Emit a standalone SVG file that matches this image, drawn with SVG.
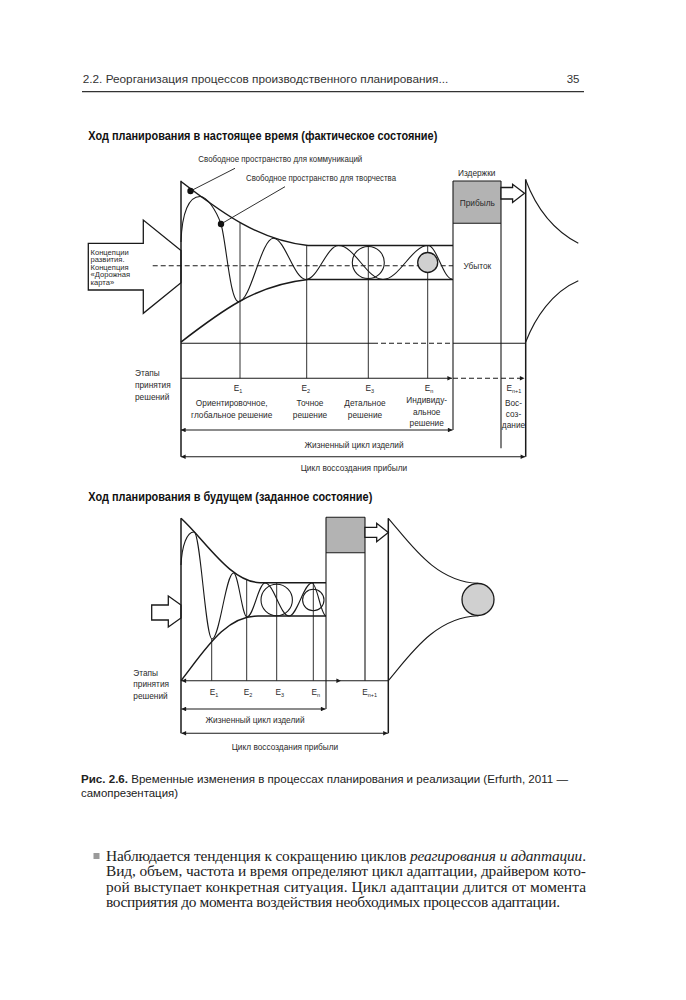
<svg xmlns="http://www.w3.org/2000/svg" width="686" height="1000" viewBox="0 0 686 1000">
<style>
.bg{fill:#ffffff}
.ln{fill:none;stroke:#1a1a1a;stroke-width:1.1}
.th{fill:none;stroke:#1a1a1a;stroke-width:1.5}
.tn{fill:none;stroke:#1a1a1a;stroke-width:0.9}
.ds{fill:none;stroke:#1a1a1a;stroke-width:1.1;stroke-dasharray:5 3}
.gray{fill:#b3b3b3;stroke:none}
.lg{fill:#d0d0d0;stroke:#1a1a1a;stroke-width:1.3}
.ha{fill:#ffffff;stroke:#1a1a1a;stroke-width:1.3}
.lbl{font-family:"Liberation Sans",Arial,sans-serif;font-size:8.3px;fill:#2a2a2a}
.sm{font-family:"Liberation Sans",Arial,sans-serif;font-size:7.6px;fill:#2a2a2a}
.sub{font-size:5.5px}
.c{text-anchor:middle}
.hd{font-family:"Liberation Sans",Arial,sans-serif;font-size:11.5px;fill:#333}
.tt{font-family:"Liberation Sans",Arial,sans-serif;font-size:12px;font-weight:bold;fill:#111}
.cap{font-family:"Liberation Sans",Arial,sans-serif;font-size:11.3px;fill:#222}
.body{font-family:"Liberation Serif","Times New Roman",serif;font-size:15.4px;fill:#222}
</style>
<defs>
<marker id="ah" viewBox="0 0 10 10" refX="10" refY="5" markerWidth="7" markerHeight="4.6" markerUnits="userSpaceOnUse" orient="auto-start-reverse"><path d="M0,0 L10,5 L0,10 z" fill="#1a1a1a"/></marker>
</defs>
<rect class="bg" x="0" y="0" width="686" height="1000"/>

<g id="header">
<text class="hd" x="82.7" y="82.5" textLength="365.6" lengthAdjust="spacingAndGlyphs">2.2. Реорганизация процессов производственного планирования...</text>
<text class="hd" x="566.7" y="82.5">35</text>
<path d="M82,91.7 H584" stroke="#333" stroke-width="1.3"/>
</g>

<g id="title1"><text class="tt" x="88.3" y="139.5" textLength="349" lengthAdjust="spacingAndGlyphs">Ход планирования в настоящее время (фактическое состояние)</text></g>

<g id="input-arrow-1">
<polygon class="ha" points="88.3,243.3 143.3,243.3 143.3,220 181,250.5 181,282.8 143.3,313.3 143.3,290 88.3,290"/>
<text class="sm" x="90.5" y="254.5">Концепции</text>
<text class="sm" x="90.5" y="262">развития.</text>
<text class="sm" x="90.5" y="269.5">Концепция</text>
<text class="sm" x="90.5" y="277">«Дорожная</text>
<text class="sm" x="90.5" y="284.5">карта»</text>
</g>

<g id="chart1">
<path class="ds" d="M152.7,265.7 H453"/>
<path class="tn" d="M240,223 V378.3 M306.7,245.5 V378.3 M368.3,245.5 V378.3 M427.7,245.5 V378.3"/>
<path class="th" d="M181,181.5 C215,207 255,240 308,245.5 H453"/>
<path class="th" d="M181,342 C220,312 255,285 308,279.5 H453"/>
<path class="ln" d="M181,242 C182,212 189,196.5 200,196.5 C207,196.5 216,210 221,224 C226,240 230,301.7 238.5,301.7 C251.1,301.7 260.9,238.3 273.5,238.3 C285,238.3 294,279.5 306,279.5 C317.7,279.5 326.8,245.5 338.5,245.5 C354.5,245.5 367,279.5 383,279.5 C399.2,279.5 411.8,245.5 428,245.5 C436.6,245.5 443.4,279 452,279"/>
<circle class="ln" cx="368.3" cy="262.5" r="16"/>
<circle class="lg" cx="427.7" cy="262.5" r="10"/>
<circle cx="190.5" cy="191" r="3.2" fill="#111"/>
<circle cx="221" cy="224" r="3.2" fill="#111"/>
<path class="th" d="M181,180.7 V456.7"/>
<path class="ln" d="M181,343.3 H373 M453,343.3 H525.7"/>
<path class="ds" d="M373,343.3 H453"/>
</g>

<g id="box1">
<rect class="gray" x="453" y="181" width="48" height="42.3"/>
<path class="ln" d="M453,181 H501 M453,223.3 H501 M453,181 V430 M501,181 V448.3"/>
<text class="lbl c" x="476.7" y="176">Издержки</text>
<text class="lbl c" x="477.3" y="205.5">Прибыль</text>
<text class="lbl c" x="477.3" y="269">Убыток</text>
<polygon class="ha" points="501,187.5 512.6,187.5 512.6,184.3 524.5,193.3 512.6,202.5 512.6,199 501,199"/>
</g>

<g id="funnel1">
<path class="th" d="M525.7,179.3 V456.7"/>
<path class="ln" d="M525.7,180 C535,205 551,229 578.3,243.3"/>
<path class="ln" d="M525.7,342 C535,318 552,292 578.3,280.7"/>
</g>

<g id="labels1">
<text class="lbl" x="198.3" y="162" textLength="164" lengthAdjust="spacingAndGlyphs">Свободное пространство для коммуникаций</text>
<text class="lbl" x="246" y="181" textLength="150" lengthAdjust="spacingAndGlyphs">Свободное пространство для творчества</text>
<text class="lbl" x="135" y="376">Этапы</text>
<text class="lbl" x="135" y="388">принятия</text>
<text class="lbl" x="135" y="399.5">решений</text>
<text class="lbl" x="233.8" y="390.5">E<tspan class="sub" dy="2">1</tspan></text>
<text class="lbl" x="301.5" y="390.5">E<tspan class="sub" dy="2">2</tspan></text>
<text class="lbl" x="365.5" y="390.5">E<tspan class="sub" dy="2">3</tspan></text>
<text class="lbl" x="424.8" y="390.5">E<tspan class="sub" dy="2">n</tspan></text>
<text class="lbl" x="506.5" y="390.5">E<tspan class="sub" dy="2">n+1</tspan></text>
<text class="lbl c" x="231.7" y="406.3">Ориентировочное,</text>
<text class="lbl c" x="231.7" y="418">глобальное решение</text>
<text class="lbl c" x="310" y="406.3">Точное</text>
<text class="lbl c" x="310" y="418">решение</text>
<text class="lbl c" x="365" y="406.3">Детальное</text>
<text class="lbl c" x="365" y="418">решение</text>
<text class="lbl c" x="426.7" y="403">Индивиду-</text>
<text class="lbl c" x="426.7" y="414.7">альное</text>
<text class="lbl c" x="426.7" y="426.3">решение</text>
<text class="lbl c" x="513.5" y="406.3">Вос-</text>
<text class="lbl c" x="513.5" y="417.3">соз-</text>
<text class="lbl c" x="513.5" y="428.3">дание</text>
<text class="lbl c" x="354" y="448">Жизненный цикл изделий</text>
<text class="lbl c" x="354" y="471">Цикл воссоздания прибыли</text>
</g>

<g id="connectors1">
<path class="tn" d="M235,168.3 L190.5,191"/>
<path class="tn" d="M285,186.7 L221,224"/>
<path class="ln" d="M181,378.3 H452" marker-end="url(#ah)"/>
<path class="ds" d="M453,378.3 H524.5" marker-end="url(#ah)"/>
<path class="ln" d="M181,430 H452.5" marker-start="url(#ah)" marker-end="url(#ah)"/>
<path class="ln" d="M181,456.7 H525.2" marker-start="url(#ah)" marker-end="url(#ah)"/>
</g>

<g id="title2"><text class="tt" x="88.3" y="501" textLength="284" lengthAdjust="spacingAndGlyphs">Ход планирования в будущем (заданное состояние)</text></g>

<g id="input-arrow-2">
<polygon class="ha" points="151.7,605 168.3,605 168.3,596 181,605 181,618 168.3,627 168.3,620 151.7,620"/>
</g>

<g id="chart2">
<path class="tn" d="M211.7,639 V680.7 M246.7,580 V680.7 M276.7,582.7 V680.7 M313.3,582.7 V680.7"/>
<path class="th" d="M181,518.3 C205,540 230,582 260,582.7 H326"/>
<path class="th" d="M181,680.7 C205,650 225,616 258,616 H326"/>
<path class="ln" d="M181,565 C182,545 187,532 194,532 C200.5,532 205.5,639 212,639 C219.7,639 225.8,573 233.5,573 C238.4,573 242.1,617 247,617 C253.5,617 258.5,583 265,583 C273.6,583 280.4,616 289,616 C297.3,616 303.7,583 312,583 C317,583 321,616 326,616"/>
<circle class="ln" cx="276.7" cy="600" r="15.7"/>
<circle class="ln" cx="313.3" cy="600" r="10.7"/>
<path class="th" d="M181,518.3 V733.3"/>
</g>

<g id="box2">
<rect class="gray" x="326" y="517.3" width="39" height="35.4"/>
<path class="ln" d="M326,517.3 H365 M326,552.7 H365 M326,517.3 V709 M365,517.3 V680.7"/>
<polygon class="ha" points="365,527.3 376.7,527.3 376.7,523.3 388.3,532.5 376.7,541.7 376.7,537.3 365,537.3"/>
</g>

<g id="funnel2">
<path class="th" d="M388.3,518.3 V733.3"/>
<path class="ln" d="M388.3,518.3 C410,543 435,582 478.3,583.3"/>
<path class="ln" d="M388.3,680.7 C410,655 435,617 478.3,615.7"/>
<circle class="lg" cx="478" cy="599.5" r="16"/>
</g>

<g id="labels2">
<text class="lbl" x="133.3" y="676">Этапы</text>
<text class="lbl" x="133.3" y="687.3">принятия</text>
<text class="lbl" x="133.3" y="698.6">решений</text>
<text class="lbl" x="209.8" y="695">E<tspan class="sub" dy="2">1</tspan></text>
<text class="lbl" x="243.8" y="695">E<tspan class="sub" dy="2">2</tspan></text>
<text class="lbl" x="275.5" y="695">E<tspan class="sub" dy="2">3</tspan></text>
<text class="lbl" x="311.5" y="695">E<tspan class="sub" dy="2">n</tspan></text>
<text class="lbl" x="362.2" y="695">E<tspan class="sub" dy="2">n+1</tspan></text>
<text class="lbl c" x="255" y="723">Жизненный цикл изделий</text>
<text class="lbl c" x="285" y="749.5">Цикл воссоздания прибыли</text>
</g>

<g id="connectors2">
<path class="ln" d="M181.5,680.7 H341" marker-start="url(#ah)" marker-end="url(#ah)"/>
<path class="ln" d="M341,680.7 H388.3"/>
<path class="ln" d="M181.5,709 H325.5" marker-start="url(#ah)" marker-end="url(#ah)"/>
<path class="ln" d="M181.5,733.3 H387.8" marker-start="url(#ah)" marker-end="url(#ah)"/>
</g>

<g id="caption">
<text class="cap" x="81" y="783" textLength="487" lengthAdjust="spacingAndGlyphs"><tspan font-weight="bold">Рис. 2.6.</tspan> Временные изменения в процессах планирования и реализации (Erfurth, 2011 —</text>
<text class="cap" x="81" y="797.2" textLength="97" lengthAdjust="spacingAndGlyphs">самопрезентация)</text>
</g>

<g id="body">
<rect x="93.5" y="853" width="6" height="6" fill="#9a9a9a"/>
<text class="body" x="106" y="860.5" textLength="480" lengthAdjust="spacing">Наблюдается тенденция к сокращению циклов <tspan font-style="italic">реагирования и адаптации</tspan>.</text>
<text class="body" x="106" y="876" textLength="480" lengthAdjust="spacing">Вид, объем, частота и время определяют цикл адаптации, драйвером кото-</text>
<text class="body" x="106" y="891.6" textLength="480" lengthAdjust="spacing">рой выступает конкретная ситуация. Цикл адаптации длится от момента</text>
<text class="body" x="106" y="907.1" textLength="454" lengthAdjust="spacing">восприятия до момента воздействия необходимых процессов адаптации.</text>
</g>
</svg>
